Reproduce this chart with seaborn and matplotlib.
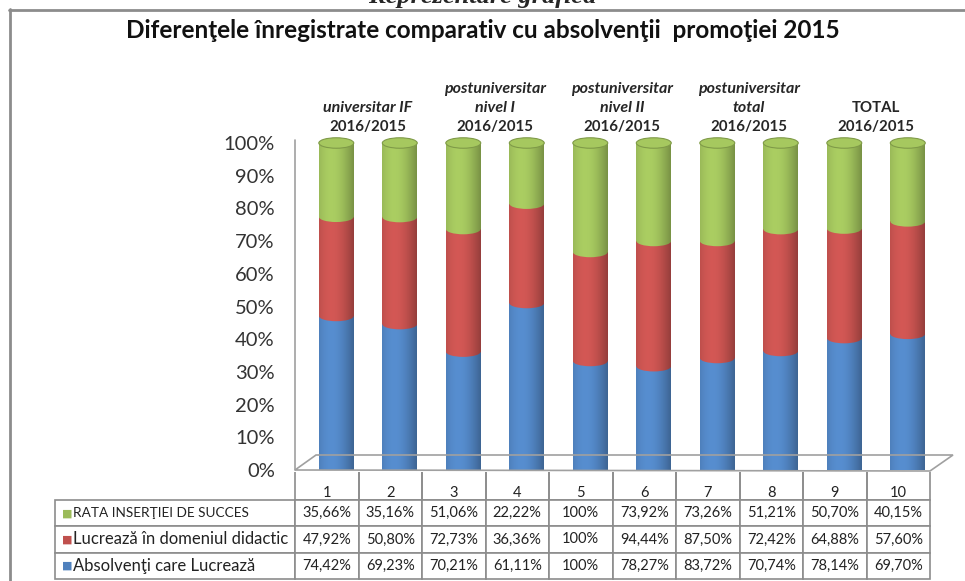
import numpy as np
import pandas as pd
import matplotlib
matplotlib.use("Agg")
import matplotlib.pyplot as plt
import seaborn as sns
from matplotlib.patches import Ellipse, Rectangle, Polygon
from matplotlib.lines import Line2D

# ---------------- data ----------------
categories = ["1", "2", "3", "4", "5", "6", "7", "8", "9", "10"]
series_names = ["RATA INSERŢIEI DE SUCCES",
                "Lucrează în domeniul didactic",
                "Absolvenţi care Lucrează"]
rata = [35.66, 35.16, 51.06, 22.22, 100, 73.92, 73.26, 51.21, 50.70, 40.15]
didactic = [47.92, 50.80, 72.73, 36.36, 100, 94.44, 87.50, 72.42, 64.88, 57.60]
lucreaza = [74.42, 69.23, 70.21, 61.11, 100, 78.27, 83.72, 70.74, 78.14, 69.70]
cell_labels = [
    ["35,66%", "35,16%", "51,06%", "22,22%", "100%", "73,92%", "73,26%", "51,21%", "50,70%", "40,15%"],
    ["47,92%", "50,80%", "72,73%", "36,36%", "100%", "94,44%", "87,50%", "72,42%", "64,88%", "57,60%"],
    ["74,42%", "69,23%", "70,21%", "61,11%", "100%", "78,27%", "83,72%", "70,74%", "78,14%", "69,70%"],
]
group_titles = [["universitar IF"], ["postuniversitar", "nivel I"],
                ["postuniversitar", "nivel II"], ["postuniversitar", "total"], ["TOTAL"]]
group_year = "2016/2015"
title = "Diferenţele înregistrate comparativ cu absolvenţii  promoţiei 2015"
ytick_vals = [0, 10, 20, 30, 40, 50, 60, 70, 80, 90, 100]

colors = {"RATA INSERŢIEI DE SUCCES": "#9BBB59",
          "Lucrează în domeniul didactic": "#C0504D",
          "Absolvenţi care Lucrează": "#4F81BD"}

# ---------------- figure ----------------
sns.set_style("white")
FAM = ["Lato", "DejaVu Sans"]
plt.rcParams["font.family"] = FAM
W, H = 965, 581
fig = plt.figure(figsize=(W / 100, H / 100), dpi=100)

def fx(px):
    return px / W

def fy(py):
    return 1 - py / H

ax_l, ax_r, ax_t, ax_b = 295, 930, 143, 470
ax = fig.add_axes([fx(ax_l), fy(ax_b), fx(ax_r - ax_l), fy(ax_t) - fy(ax_b)])

df = pd.DataFrame({"cat": categories,
                   series_names[0]: rata,
                   series_names[1]: didactic,
                   series_names[2]: lucreaza})
tot = df[series_names].sum(axis=1)
frac = df[series_names].div(tot, axis=0)

bar_w = 0.55
stack_order = [series_names[2], series_names[1], series_names[0]]  # bottom -> top
bottoms = np.zeros(len(categories))
seg_info = []
for name in stack_order:
    d = pd.DataFrame({"cat": categories, "v": frac[name].values})
    sns.barplot(data=d, x="cat", y="v", order=categories, color=colors[name],
                width=bar_w, bottom=bottoms.copy(), errorbar=None, ax=ax,
                saturation=1, linewidth=0)
    seg_info.append((name, bottoms.copy(), frac[name].values.copy()))
    bottoms = bottoms + frac[name].values

ax.set_xlim(-0.65, 9.35)
ax.set_ylim(0, 1)

# ---- cylinder shading ----
ell_h = 0.032
tvals = np.linspace(0, 1, 64)
shade = 0.78 + 0.32 * np.cos(np.pi * (tvals - 0.35) / 1.3)
for p in list(ax.patches):
    p.set_alpha(0)

def shaded_img(hexcol):
    base = np.array(matplotlib.colors.to_rgb(hexcol))
    img = np.clip(base[None, :] * shade[:, None], 0, 1)
    return img[None, :, :]

for name, bot, hgt in seg_info:
    img = shaded_img(colors[name])
    for i in range(len(categories)):
        x0 = i - bar_w / 2
        rect = Rectangle((x0, bot[i]), bar_w, hgt[i], transform=ax.transData)
        ell = Ellipse((i, bot[i]), bar_w, ell_h, transform=ax.transData)
        for clip in (rect, ell):
            im = ax.imshow(img, extent=(x0, x0 + bar_w, bot[i] - ell_h, bot[i] + hgt[i] + ell_h),
                           aspect="auto", interpolation="bilinear", zorder=3)
            im.set_clip_path(clip)
        if name == series_names[0]:
            top = bot[i] + hgt[i]
            cap_col = np.clip(np.array(matplotlib.colors.to_rgb(colors[name])) * 1.07, 0, 1)
            ax.add_patch(Ellipse((i, top), bar_w, ell_h, facecolor=cap_col,
                                 edgecolor="#7f9a48", lw=0.8, zorder=4, clip_on=False))
ax.set_xlim(-0.65, 9.35)
ax.set_ylim(0, 1)

# ---- axes styling ----
for s in ax.spines.values():
    s.set_visible(False)
ax.set_xticks([])
ax.set_xlabel("")
ax.set_ylabel("")
ax.set_yticks([v / 100 for v in ytick_vals])
ax.set_yticklabels([f"{v}%" for v in ytick_vals], fontsize=14.5, color="#333333", family=FAM)
ax.tick_params(axis="y", length=0, pad=14.5)

# left wall line & floor
fig.add_artist(Line2D([fx(295), fx(295)], [fy(140), fy(470)], color="#a0a0a0", lw=1.2))
fig.add_artist(Polygon([[fx(295), fy(470)], [fx(316), fy(455)], [fx(953), fy(455)],
                        [fx(930), fy(471)]], closed=True, fill=False,
                       edgecolor="#a0a0a0", lw=1.2))

# ---- group labels ----
line_dy = 0.058
for k, lines in enumerate(group_titles):
    xc = 2 * k + 0.5
    ax.text(xc, 1.05, group_year, ha="center", va="center", fontsize=10.8,
            fontweight="bold", family=FAM, clip_on=False, zorder=6)
    for j, ln in enumerate(reversed(lines)):
        ax.text(xc, 1.05 + line_dy * (j + 1), ln, ha="center", va="center",
                fontsize=11.5 if ln != "TOTAL" else 10.8, fontweight="bold",
                fontstyle="normal" if ln == "TOTAL" else "italic",
                family=FAM, clip_on=False, zorder=6)

# ---- data table ----
lab_l = 55
col_w = (ax_r - ax_l) / len(categories)
hdr_top, hdr_bot = 472, 500
row_h = 26.3
tbl_bot = hdr_bot + 3 * row_h
cell_text = [[""] + categories] + [[""] + r for r in cell_labels]
col_widths = [(ax_l - lab_l)] + [col_w] * len(categories)
total_w = sum(col_widths)
col_widths = [c / total_w for c in col_widths]
bbox_x0 = (lab_l - ax_l) / (ax_r - ax_l)
bbox_w = (ax_r - lab_l) / (ax_r - ax_l)
bbox_y0 = (ax_b - tbl_bot) / (ax_b - ax_t)
bbox_h = (tbl_bot - hdr_top) / (ax_b - ax_t)
tbl = ax.table(cellText=cell_text, colWidths=col_widths, cellLoc="center",
               bbox=[bbox_x0, bbox_y0, bbox_w, bbox_h])
tbl.auto_set_font_size(False)
for (r, c), cell in tbl.get_celld().items():
    cell.set_edgecolor("#8c8c8c")
    cell.set_linewidth(1.2)
    cell.get_text().set_fontsize(10.5)
    cell.get_text().set_family(FAM)
    cell.get_text().set_color("#222222")
    cell.set_height((hdr_bot - hdr_top) if r == 0 else row_h)
    if r == 0 and c == 0:
        cell.visible_edges = ""
    if r == 0 and c > 0:
        cell.visible_edges = "LRB"
        cell.get_text().set_va("top")

# row labels with colored markers
for r, name in enumerate(series_names):
    yc = hdr_bot + row_h * (r + 0.5)
    fig.text(fx(62), fy(yc), "■", color=colors[name], fontsize=8, va="center", ha="left",
             family=["DejaVu Sans"])
    fig.text(fx(73), fy(yc), name, fontsize=9.8 if r == 0 else 12, va="center", ha="left",
             color="#222222", family=FAM)

# ---- title & frame ----
fig.text(0.5, fy(31), title, ha="center", va="center", fontsize=17.5, fontweight="bold",
         color="#111111", family=FAM)
fig.text(0.5, fy(-4), "Reprezentare grafică", ha="center", va="center", fontsize=19,
         fontweight="bold", fontstyle="italic", family=["Liberation Serif", "DejaVu Serif"])
fig.add_artist(Line2D([fx(10), fx(10)], [fy(9), 0], color="#8c8c8c", lw=2))
fig.add_artist(Line2D([fx(9), 1], [fy(10), fy(10)], color="#8c8c8c", lw=2))

fig.savefig("out.png", dpi=100)
